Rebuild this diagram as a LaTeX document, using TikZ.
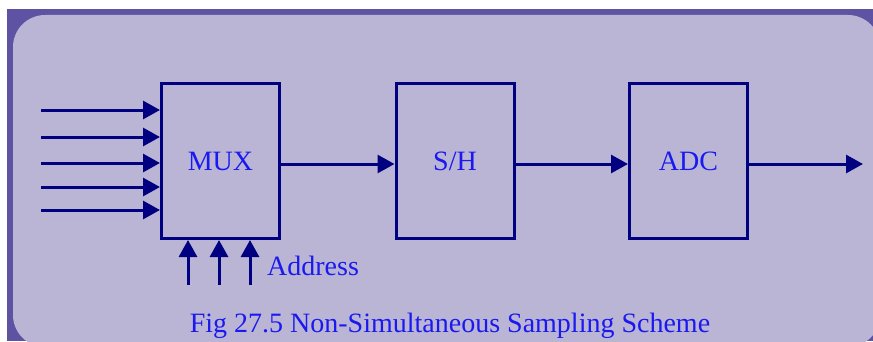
\documentclass[tikz,border=0pt]{standalone}
\usepackage{fontspec}
\setmainfont{Liberation Serif}
\usepackage{xcolor}
\usepackage{tikz}
\usetikzlibrary{arrows.meta}
\definecolor{frame}{RGB}{94,82,163}
\definecolor{panel}{RGB}{187,181,213}
\definecolor{navy}{RGB}{0,0,128}
\definecolor{txt}{RGB}{25,25,240}
\begin{document}
\begin{tikzpicture}[x=1pt,y=1pt,
  blk/.style={draw=navy, line width=3pt, minimum width=118pt, minimum height=155pt, anchor=south west, inner sep=0pt, font=\fontsize{28}{30}\selectfont, text=txt},
  lbl/.style={font=\fontsize{28}{30}\selectfont, text=txt, inner sep=0pt},
  sig/.style={-{Triangle[length=17pt,width=18pt]}, line width=3pt, draw=navy, fill=navy},
]
\useasboundingbox (0,0) rectangle (873,341);
\clip (0,0) rectangle (873,341);
% background panel
\fill[frame] (7,0) rectangle (873,332);
\fill[panel, rounded corners=32pt] (13,-6) rectangle (880,326);
% blocks
\node[blk] (mux) at (160,101) {MUX};
\node[blk] (sh) at (394.5,101) {S/H};
\node[blk] (adc) at (628,101) {ADC};
% analog inputs
\foreach \y [count=\i] in {231,204,178,154,131}
  {\coordinate (in\i) at (41,\y);
   \draw[sig] (in\i) -- (in\i -| mux.west);}
% address lines
\foreach \x in {188,219,250}
  {\coordinate (ad\x) at (\x,56);
   \draw[sig] (ad\x) -- (ad\x |- mux.south);}
\node[lbl, anchor=base west] (addr) at (267,66) {Address};
% signal path
\path ([yshift=-3pt]adc.east) ++(114,0) coordinate (out);
\draw[sig] ([yshift=-3pt]mux.east) -- ([yshift=-3pt]sh.west);
\draw[sig] ([yshift=-3pt]sh.east) -- ([yshift=-3pt]adc.west);
\draw[sig] ([yshift=-3pt]adc.east) -- (out);
% caption
\node[lbl, anchor=base] (cap) at (450,9) {Fig 27.5 Non-Simultaneous Sampling Scheme};
\end{tikzpicture}
\end{document}
